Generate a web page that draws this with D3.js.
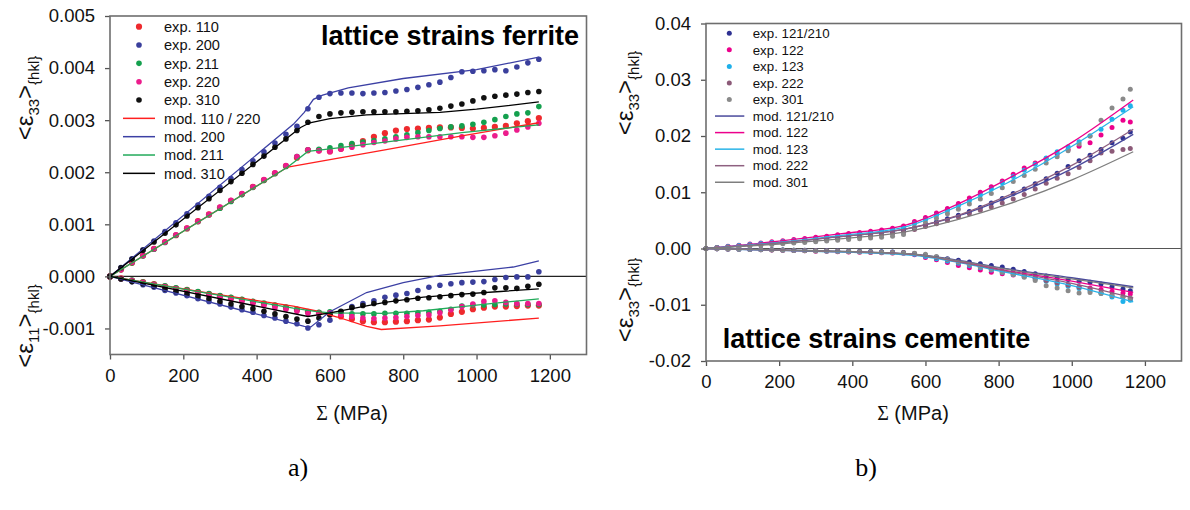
<!DOCTYPE html>
<html>
<head>
<meta charset="utf-8">
<script src="https://cdn.jsdelivr.net/npm/d3@7"></script>
<style>
body { margin: 0; background: #fff; }
svg { font-family: "Liberation Sans", Arial, sans-serif; }
</style>
</head>
<body>
<svg id="chart" width="1190" height="510"></svg>
<script>
// all strain values below are in units of 1e-3

// ---------- ferrite (panel a) ----------
var sigmaFerrite = [0,30,60,90,120,150,180,210,240,270,300,330,360,390,420,450,480,510,540,570,
                    600,630,660,690,720,750,780,810,840,870,900,930,960,990,1020,1050,1080,1110,1140,1170];

var fe33_exp110 = [0,0.13,0.26,0.40,0.53,0.66,0.79,0.92,1.06,1.19, 1.32,1.45,1.58,1.72,1.85,1.98,2.12,2.28,2.42,2.42,
                   2.40,2.45,2.53,2.60,2.68,2.75,2.80,2.83,2.84,2.85, 2.86,2.86,2.85,2.84,2.85,2.87,2.89,2.94,2.98,3.04];
var fe33_exp200 = [0,0.17,0.34,0.51,0.68,0.86,1.03,1.20,1.37,1.54, 1.71,1.88,2.05,2.22,2.39,2.56,2.73,2.88,3.22,3.44,
                   3.51,3.52,3.52,3.51,3.52,3.53,3.56,3.59,3.63,3.68, 3.73,3.82,3.93,3.94,3.95,3.97,3.95,4.02,4.10,4.17];
var fe33_exp211 = [0,0.13,0.26,0.39,0.52,0.65,0.79,0.92,1.05,1.18, 1.31,1.44,1.57,1.71,1.84,1.97,2.11,2.30,2.43,2.44,
                   2.47,2.51,2.55,2.58,2.61,2.64,2.68,2.72,2.76,2.80, 2.84,2.87,2.89,2.92,2.96,3.01,3.07,3.12,3.14,3.26];
var fe33_exp220 = [0,0.13,0.27,0.40,0.53,0.66,0.80,0.93,1.06,1.19, 1.33,1.46,1.59,1.72,1.86,1.99,2.13,2.30,2.43,2.41,
                   2.40,2.44,2.48,2.53,2.57,2.60,2.64,2.67,2.68,2.68, 2.68,2.68,2.68,2.67,2.67,2.70,2.75,2.81,2.87,2.94];
var fe33_exp310 = [0,0.165,0.33,0.50,0.66,0.83,0.99,1.16,1.32,1.49, 1.65,1.82,1.98,2.15,2.31,2.48,2.64,2.80,2.96,3.07,
                   3.12,3.14,3.15,3.16,3.16,3.16,3.16,3.17,3.18,3.20, 3.23,3.27,3.31,3.37,3.43,3.46,3.48,3.50,3.53,3.55];

var fe11_exp110 = [0,-0.04,-0.08,-0.11,-0.15,-0.19,-0.23,-0.26,-0.30,-0.34, -0.38,-0.41,-0.45,-0.49,-0.53,-0.56,-0.60,-0.64,-0.68,-0.70,
                   -0.73,-0.77,-0.82,-0.86,-0.88,-0.88,-0.87,-0.86,-0.84,-0.83, -0.79,-0.72,-0.68,-0.63,-0.60,-0.58,-0.58,-0.57,-0.56,-0.56];
var fe11_exp200 = [0,-0.05,-0.10,-0.16,-0.21,-0.27,-0.32,-0.37,-0.43,-0.48, -0.53,-0.59,-0.64,-0.69,-0.75,-0.80,-0.86,-0.91,-0.99,-0.93,
                   -0.84,-0.68,-0.58,-0.52,-0.47,-0.40,-0.36,-0.33,-0.27,-0.21, -0.17,-0.14,-0.12,-0.11,-0.10,-0.06,-0.02,-0.01,-0.01,0.09];
var fe11_exp211 = [0,-0.04,-0.07,-0.11,-0.15,-0.18,-0.22,-0.26,-0.29,-0.33, -0.37,-0.40,-0.44,-0.48,-0.51,-0.55,-0.59,-0.63,-0.68,-0.69,
                   -0.68,-0.70,-0.72,-0.72,-0.72,-0.71,-0.71,-0.71,-0.70,-0.69, -0.67,-0.63,-0.57,-0.55,-0.55,-0.54,-0.53,-0.53,-0.54,-0.54];
var fe11_exp220 = [0,-0.04,-0.08,-0.12,-0.16,-0.20,-0.24,-0.28,-0.32,-0.36, -0.40,-0.44,-0.48,-0.52,-0.56,-0.60,-0.63,-0.67,-0.71,-0.71,
                   -0.70,-0.73,-0.77,-0.80,-0.81,-0.80,-0.79,-0.77,-0.75,-0.74, -0.70,-0.64,-0.58,-0.53,-0.48,-0.47,-0.50,-0.52,-0.52,-0.52];
var fe11_exp310 = [0,-0.05,-0.10,-0.14,-0.19,-0.24,-0.29,-0.34,-0.38,-0.43, -0.48,-0.53,-0.58,-0.62,-0.67,-0.72,-0.77,-0.82,-0.86,-0.80,
                   -0.73,-0.67,-0.60,-0.56,-0.52,-0.50,-0.47,-0.45,-0.42,-0.41, -0.39,-0.37,-0.35,-0.34,-0.31,-0.22,-0.22,-0.23,-0.19,-0.15];

// model curves as [sigma, strain]
var fe33_mod110 = [[0,0],[485,2.10],[750,2.43],[960,2.70],[1170,2.95]];
var fe33_mod200 = [[0,0],[500,2.92],[530,3.15],[555,3.40],[580,3.48],[650,3.62],[800,3.80],[1000,3.97],[1170,4.21]];
var fe33_mod211 = [[0,0],[485,2.10],[540,2.40],[600,2.45],[750,2.58],[960,2.76],[1170,2.91]];
var fe33_mod310 = [[0,0],[520,2.86],[545,2.95],[600,3.03],[700,3.10],[900,3.15],[1000,3.21],[1170,3.35]];
var fe11_mod110 = [[0,0],[250,-0.30],[500,-0.57],[560,-0.66],[620,-0.78],[700,-0.96],[740,-1.02],[900,-0.95],[1170,-0.80]];
var fe11_mod200 = [[0,0],[530,-0.96],[548,-0.97],[600,-0.68],[700,-0.31],[800,-0.12],[900,0.02],[1000,0.10],[1100,0.18],[1170,0.30]];
var fe11_mod211 = [[0,0],[500,-0.61],[560,-0.67],[600,-0.70],[750,-0.71],[855,-0.66],[960,-0.58],[1170,-0.43]];
var fe11_mod310 = [[0,0],[540,-0.77],[600,-0.70],[750,-0.50],[855,-0.40],[960,-0.34],[1065,-0.29],[1170,-0.24]];

// ---------- cementite (panel b) ----------
var sigmaCementite = [0,30,60,90,120,150,180,210,240,270,300,330,360,390,420,450,480,510,540,570,
                      600,630,660,690,720,750,780,810,840,870,900,930,960,990,1020,1050,1080,1110,1140,1160];

var ce33_exp121 = [0,0.16,0.32,0.48,0.63,0.79,0.94,1.10,1.26,1.42, 1.58,1.75,1.92,2.10,2.28,2.46,2.66,2.88,3.15,3.6,
                   4.1,4.7,5.3,5.9,6.6,7.3,8.1,8.9,9.8,10.6, 11.5,12.4,13.4,14.6,15.6,16.6,17.6,18.8,19.6,20.7];
var ce33_exp122 = [0,0.20,0.40,0.60,0.80,1.0,1.2,1.4,1.6,1.8, 2.0,2.2,2.45,2.65,2.85,3.05,3.3,3.6,4.0,4.8,
                   5.5,6.3,7.1,8.0,9.0,10.0,11.0,12.0,13.2,14.3, 15.2,16.0,16.8,17.6,18.2,18.8,20.2,21.5,22.8,22.5];
var ce33_exp123 = [0,0.17,0.35,0.52,0.70,0.87,1.05,1.22,1.40,1.57, 1.75,1.93,2.12,2.32,2.52,2.72,2.95,3.2,3.6,4.4,
                   5.1,5.9,6.7,7.6,8.5,9.5,10.6,11.7,12.8,13.9, 15.0,16.1,17.2,18.1,19.0,20.0,21.2,23.0,24.6,25.4];
var ce33_exp222 = [0,0.14,0.28,0.42,0.56,0.70,0.84,0.98,1.12,1.27, 1.42,1.57,1.72,1.88,2.04,2.22,2.42,2.65,2.95,3.4,
                   3.9,4.4,5.0,5.6,6.2,6.8,7.4,8.1,8.8,9.6, 10.6,11.6,12.5,13.3,14.4,15.6,17.0,17.3,17.6,17.8];
var ce33_exp301 = [0,0.12,0.24,0.36,0.48,0.60,0.72,0.84,0.96,1.08, 1.20,1.32,1.45,1.58,1.72,1.86,2.0,2.2,2.5,3.8,
                   4.6,5.4,6.2,7.0,7.9,8.8,9.8,10.8,11.9,13.0, 14.1,15.2,16.3,17.4,18.6,20.0,22.8,25.0,26.6,28.3];

var ce11_exp121 = [0,-0.04,-0.07,-0.11,-0.14,-0.18,-0.22,-0.25,-0.29,-0.32, -0.36,-0.40,-0.43,-0.47,-0.50,-0.54,-0.58,-0.62,-0.70,-0.9,
                   -1.2,-1.5,-1.8,-2.1,-2.4,-2.7,-3.0,-3.3,-3.7,-4.1, -4.5,-4.9,-5.2,-5.5,-5.8,-6.0,-6.3,-6.8,-7.2,-7.5];
var ce11_exp122 = [0,-0.05,-0.09,-0.14,-0.19,-0.23,-0.28,-0.33,-0.37,-0.42, -0.47,-0.51,-0.56,-0.61,-0.65,-0.70,-0.75,-0.80,-0.86,-1.1,
                   -1.6,-2.0,-2.5,-3.0,-3.4,-3.8,-4.2,-4.5,-4.7,-4.9, -5.3,-5.7,-6.1,-6.5,-6.8,-7.0,-7.3,-7.6,-7.9,-8.1];
var ce11_exp123 = [0,-0.04,-0.08,-0.12,-0.16,-0.20,-0.23,-0.27,-0.31,-0.35, -0.39,-0.43,-0.47,-0.51,-0.55,-0.59,-0.62,-0.66,-0.75,-1.0,
                   -1.4,-1.8,-2.2,-2.6,-3.0,-3.4,-3.8,-4.2,-4.6,-5.0, -5.4,-5.8,-6.3,-6.7,-7.1,-7.5,-8.0,-8.6,-9.4,-9.2];
var ce11_exp222 = [0,-0.04,-0.07,-0.11,-0.15,-0.19,-0.22,-0.26,-0.30,-0.34, -0.37,-0.41,-0.45,-0.49,-0.52,-0.56,-0.60,-0.65,-0.72,-0.9,
                   -1.2,-1.6,-2.0,-2.4,-2.8,-3.2,-3.6,-4.0,-4.4,-4.8, -5.2,-5.7,-6.1,-6.5,-6.9,-7.3,-7.8,-8.2,-8.6,-8.9];
var ce11_exp301 = [0,-0.05,-0.09,-0.14,-0.18,-0.23,-0.27,-0.32,-0.36,-0.41, -0.45,-0.50,-0.54,-0.59,-0.63,-0.68,-0.72,-0.77,-0.80,-0.85,
                   -1.0,-1.4,-1.9,-2.4,-2.8,-3.3,-3.7,-4.2,-4.6,-5.1, -5.7,-6.6,-7.0,-7.5,-7.9,-7.8,-8.0,-8.4,-8.6,-8.8];

var ce33_mod121 = [[0,0],[200,1.0],[366,2.1],[548,3.5],[685,5.7],[822,9.0],[1004,14.3],[1168,20.3]];
var ce33_mod122 = [[0,0],[200,1.3],[366,2.6],[548,4.2],[685,7.8],[822,12.3],[1004,19.0],[1168,26.4]];
var ce33_mod123 = [[0,0],[200,1.1],[366,2.3],[548,3.9],[685,7.4],[822,11.6],[1004,18.3],[1168,25.2]];
var ce33_mod222 = [[0,0],[200,1.0],[366,2.1],[548,3.5],[685,5.8],[822,9.3],[1004,14.9],[1168,21.2]];
var ce33_mod301 = [[0,0],[200,0.8],[366,1.7],[548,3.0],[685,5.1],[822,7.8],[1004,12.3],[1168,17.2]];
var ce11_mod121 = [[0,0],[300,-0.4],[566,-1.0],[700,-2.2],[803,-3.4],[1000,-5.2],[1168,-6.8]];
var ce11_mod122 = [[0,0],[300,-0.45],[566,-1.1],[700,-2.4],[803,-3.7],[1000,-5.8],[1168,-7.8]];
var ce11_mod123 = [[0,0],[300,-0.5],[566,-1.2],[700,-2.6],[803,-4.0],[1000,-6.6],[1168,-9.5]];
var ce11_mod222 = [[0,0],[300,-0.45],[566,-1.1],[700,-2.5],[803,-3.8],[1000,-6.2],[1168,-8.8]];
var ce11_mod301 = [[0,0],[300,-0.4],[566,-1.0],[700,-2.3],[803,-3.5],[1000,-5.4],[1168,-7.0]];

var xTicks = [0,200,400,600,800,1000,1200];
var ferriteYTicks = [-1,0,1,2,3,4,5];
var cementiteYTicks = [-20,-10,0,10,20,30,40];

var svg = d3.select("#chart");

function drawPanel(p) {
    var x = d3.scaleLinear().domain([0, 1300]).range([p.left, p.right]);
    var y = d3.scaleLinear().domain(p.yDomain).range([p.bottom, p.top]);
    var g = svg.append("g");

    //zero line
    g.append("line")
        .attr("x1", x(0)).attr("x2", x(1300))
        .attr("y1", y(0)).attr("y2", y(0))
        .attr("stroke", p.zeroColor)
        .attr("stroke-width", 1.2);

    //experimental points
    p.exp.forEach(function(s) {
        [s.upper, s.lower].forEach(function(vals) {
            g.append("g").selectAll("circle")
                .data(vals.map(function(v, i) { return [p.sigma[i], v]; }))
                .enter()
                .append("circle")
                    .attr("cx", function(d) { return x(d[0]); })
                    .attr("cy", function(d) { return y(d[1]); })
                    .attr("r", s.r)
                    .attr("fill", s.color);
        });
    });

    //model lines
    var line = d3.line()
        .x(function(d) { return x(d[0]); })
        .y(function(d) { return y(d[1]); })
        .curve(p.curve);
    p.mod.forEach(function(s) {
        [s.upper, s.lower].forEach(function(pts) {
            g.append("path")
                .datum(pts)
                .attr("fill", "none")
                .attr("stroke", s.color)
                .attr("stroke-width", 1.3)
                .attr("d", line);
        });
    });

    //axes
    var yAxis = g.append("g")
        .attr("transform", "translate(" + p.left + ",0)")
        .call(d3.axisLeft(y).tickValues(p.yTicks).tickSize(5).tickSizeOuter(0).tickPadding(10).tickFormat(p.fmt));
    var xAxis = g.append("g")
        .attr("transform", "translate(0," + p.bottom + ")")
        .call(d3.axisBottom(x).tickValues(xTicks).tickSize(5).tickSizeOuter(0).tickPadding(9).tickFormat(d3.format("d")));
    [xAxis, yAxis].forEach(function(a) {
        a.select(".domain").remove();
        a.selectAll("line").attr("stroke", "#555").attr("stroke-width", 1.3);
        a.selectAll("text")
            .attr("font-family", "'Liberation Sans', Arial, sans-serif")
            .attr("font-size", "18.5px")
            .attr("fill", "#111");
    });

    g.append("rect")
        .attr("x", p.left).attr("y", p.top)
        .attr("width", p.right - p.left).attr("height", p.bottom - p.top)
        .attr("fill", "none")
        .attr("stroke", "#6e6e6e")
        .attr("stroke-width", 1.6);

    //x label
    var xl = g.append("text")
        .attr("x", p.xLabelX).attr("y", 420)
        .attr("text-anchor", "middle")
        .attr("font-size", "20px")
        .attr("fill", "#111");
    xl.append("tspan").attr("font-family", "'Liberation Serif', serif").text("\u03A3");
    xl.append("tspan").text(" (MPa)");

    //title
    g.append("text")
        .attr("x", p.titleX).attr("y", p.titleY)
        .attr("text-anchor", p.titleAnchor)
        .attr("font-size", "27px")
        .attr("font-weight", "bold")
        .attr("fill", "#000")
        .text(p.title);

    //legend
    var rows = [];
    p.exp.forEach(function(s) { rows.push({type: "dot", s: s}); });
    p.mod.forEach(function(s) { rows.push({type: "line", s: s}); });
    rows.forEach(function(r, i) {
        var yy = p.leg.y0 + i * p.leg.dy;
        if (r.type == "dot") {
            g.append("circle")
                .attr("cx", p.leg.dotX).attr("cy", yy)
                .attr("r", r.s.r)
                .attr("fill", r.s.color);
        } else {
            g.append("line")
                .attr("x1", p.leg.lineX1).attr("x2", p.leg.lineX2)
                .attr("y1", yy).attr("y2", yy)
                .attr("stroke", r.s.color)
                .attr("stroke-width", 1.5);
        }
        g.append("text")
            .attr("x", p.leg.textX).attr("y", yy)
            .attr("dy", "0.36em")
            .attr("font-size", p.leg.size)
            .attr("fill", "#111")
            .text(r.s.name);
    });
}

function yLabel(cx, cy, sub) {
    var t = svg.append("text")
        .attr("transform", "translate(" + cx + "," + cy + ") rotate(-90)")
        .attr("text-anchor", "middle")
        .attr("fill", "#111");
    t.append("tspan").attr("font-size", "24px").text("<\u03B5");
    t.append("tspan").attr("font-size", "15px").attr("dy", 6).text(sub);
    t.append("tspan").attr("font-size", "24px").attr("dy", -6).text(">");
    t.append("tspan").attr("font-size", "15px").attr("dy", 6).text("{hkl}");
}

drawPanel({
    left: 110, right: 586.5, top: 16, bottom: 354.5,
    yDomain: [-1.5, 5], yTicks: ferriteYTicks,
    fmt: function(d) { return (d / 1000).toFixed(3); },
    sigma: sigmaFerrite,
    curve: d3.curveLinear,
    zeroColor: "#222",
    exp: [
        {name: "exp. 110", color: "#ee2a2e", r: 3.1, upper: fe33_exp110, lower: fe11_exp110},
        {name: "exp. 200", color: "#3a3f9c", r: 2.8, upper: fe33_exp200, lower: fe11_exp200},
        {name: "exp. 211", color: "#14a04e", r: 2.8, upper: fe33_exp211, lower: fe11_exp211},
        {name: "exp. 220", color: "#ec1c8c", r: 2.8, upper: fe33_exp220, lower: fe11_exp220},
        {name: "exp. 310", color: "#111111", r: 2.8, upper: fe33_exp310, lower: fe11_exp310}
    ],
    mod: [
        {name: "mod. 110 / 220", color: "#ff1f1f", upper: fe33_mod110, lower: fe11_mod110},
        {name: "mod. 200", color: "#3c40a4", upper: fe33_mod200, lower: fe11_mod200},
        {name: "mod. 211", color: "#22aa5a", upper: fe33_mod211, lower: fe11_mod211},
        {name: "mod. 310", color: "#000000", upper: fe33_mod310, lower: fe11_mod310}
    ],
    leg: {y0: 26.7, dy: 18.33, dotX: 139, lineX1: 123, lineX2: 155, textX: 164, size: "14.6px"},
    xLabelX: 352,
    title: "lattice strains ferrite", titleX: 579, titleY: 45, titleAnchor: "end"
});

drawPanel({
    left: 706, right: 1181.5, top: 23.5, bottom: 361,
    yDomain: [-20, 40], yTicks: cementiteYTicks,
    fmt: function(d) { return (d / 1000).toFixed(2); },
    sigma: sigmaCementite,
    curve: d3.curveMonotoneX,
    zeroColor: "#555",
    exp: [
        {name: "exp. 121/210", color: "#2e3192", r: 2.5, upper: ce33_exp121, lower: ce11_exp121},
        {name: "exp. 122", color: "#ec008c", r: 2.5, upper: ce33_exp122, lower: ce11_exp122},
        {name: "exp. 123", color: "#1eb0ea", r: 2.5, upper: ce33_exp123, lower: ce11_exp123},
        {name: "exp. 222", color: "#8c5a78", r: 2.5, upper: ce33_exp222, lower: ce11_exp222},
        {name: "exp. 301", color: "#8a8a8a", r: 2.5, upper: ce33_exp301, lower: ce11_exp301}
    ],
    mod: [
        {name: "mod. 121/210", color: "#4a4a9c", upper: ce33_mod121, lower: ce11_mod121},
        {name: "mod. 122", color: "#ec008c", upper: ce33_mod122, lower: ce11_mod122},
        {name: "mod. 123", color: "#2ab4e8", upper: ce33_mod123, lower: ce11_mod123},
        {name: "mod. 222", color: "#8e6080", upper: ce33_mod222, lower: ce11_mod222},
        {name: "mod. 301", color: "#7e7e7e", upper: ce33_mod301, lower: ce11_mod301}
    ],
    leg: {y0: 33.3, dy: 16.55, dotX: 729.3, lineX1: 715, lineX2: 744.3, textX: 752.7, size: "13.3px"},
    xLabelX: 913,
    title: "lattice strains cementite", titleX: 722.7, titleY: 348.3, titleAnchor: "start"
});

yLabel(33, 98, "33");
yLabel(33, 326, "11");
yLabel(633, 93, "33");
yLabel(633, 300, "33");

svg.append("text").attr("x", 298).attr("y", 476).attr("text-anchor", "middle")
    .attr("font-family", "'Liberation Serif', serif").attr("font-size", "26px").text("a)");
svg.append("text").attr("x", 866).attr("y", 476).attr("text-anchor", "middle")
    .attr("font-family", "'Liberation Serif', serif").attr("font-size", "26px").text("b)");
</script>
</body>
</html>
